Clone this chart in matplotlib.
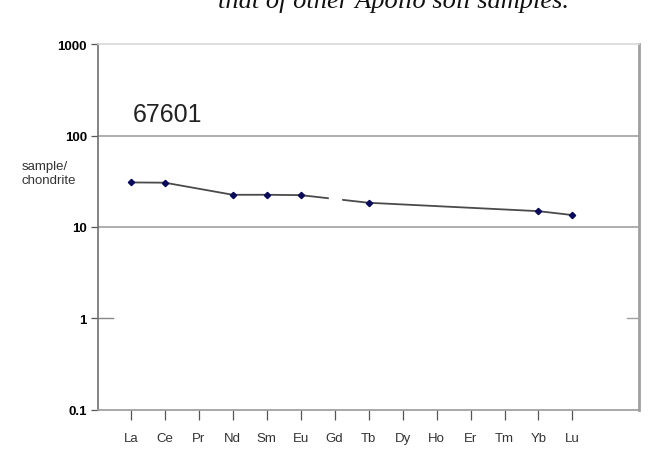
import numpy as np
import matplotlib.pyplot as plt

# REE pattern, sample 67601 (chondrite normalised)
elements = ['La', 'Ce', 'Pr', 'Nd', 'Sm', 'Eu', 'Gd', 'Tb', 'Dy', 'Ho', 'Er', 'Tm', 'Yb', 'Lu']
values = [30.7, 30.5, np.nan, 22.5, 22.5, 22.3, np.nan, 18.4, np.nan, np.nan, np.nan, np.nan, 14.9, 13.5]
ytick_vals = [0.1, 1, 10, 100, 1000]
ytick_labels = ['0.1', '1', '10', '100', '1000']

x = np.arange(len(elements))
vals = np.array(values)
ok = ~np.isnan(vals)

fig = plt.figure(figsize=(6.66, 4.56), dpi=100)
ax = fig.add_axes([0.147, 0.0987, 0.812, 0.8026])

ax.set_yscale('log')
ax.set_ylim(0.1, 1000)
ax.set_xlim(-0.97, 14.95)

for g in [10, 100]:
    ax.axhline(g, color='#a8a8a8', lw=1.3, zorder=1)
ax.axhline(1, xmin=0, xmax=0.028, color='#888888', lw=1.0)
ax.axhline(1, xmin=0.978, xmax=1, color='#a0a0a0', lw=1.0)

ax.plot(x[ok], vals[ok], color='#4a4a4a', lw=1.3, zorder=2)
# small break in the line at Gd, as in the printed figure
gd = elements.index('Gd')
eu, tb = elements.index('Eu'), elements.index('Tb')
gd_y = 10 ** np.interp(gd, [eu, tb], np.log10([vals[eu], vals[tb]]))
ax.plot([gd], [gd_y], marker='s', ms=9, color='white', mec='white', zorder=3)
ax.plot(x[ok], vals[ok], ls='none', marker='D', ms=3.2, color='#0a0a5a', zorder=4)

ax.set_yticks(ytick_vals)
ax.set_yticklabels(ytick_labels, fontfamily='Liberation Sans', fontweight='bold', fontsize=9.5)
ax.yaxis.set_minor_locator(plt.NullLocator())
ax.tick_params(axis='y', direction='out', length=5, width=0.9, color='#555555', pad=3)

ax.set_xticks(x)
ax.set_xticklabels(elements, fontfamily='Liberation Sans', fontsize=9.5, color='#333333')
ax.tick_params(axis='x', direction='out', length=7, width=0.9, color='#555555', pad=9)

ax.spines['left'].set_color('#707070')
ax.spines['left'].set_linewidth(1.2)
ax.spines['bottom'].set_color('#9a9a9a')
ax.spines['bottom'].set_linewidth(1.2)
ax.spines['top'].set_color('#d8d8d8')
ax.spines['top'].set_linewidth(1.2)
ax.spines['right'].set_color('#a0a0a0')
ax.spines['right'].set_linewidth(2)

ax.text(0.065, 0.81, '67601', transform=ax.transAxes, fontfamily='Liberation Sans',
        fontsize=18, color='#222222', va='center', ha='left')
fig.text(22 / 666, 1 - 174 / 456, 'sample/\nchondrite', fontfamily='Liberation Sans',
         fontsize=9.5, color='#333333', va='center', ha='left', linespacing=1.2)
fig.text(218 / 666, 1 - 8 / 456, 'that of other Apollo soil samples.', fontfamily='Liberation Serif',
         style='italic', fontsize=19, color='#111111', va='baseline', ha='left')

fig.savefig('out.png', dpi=100)
